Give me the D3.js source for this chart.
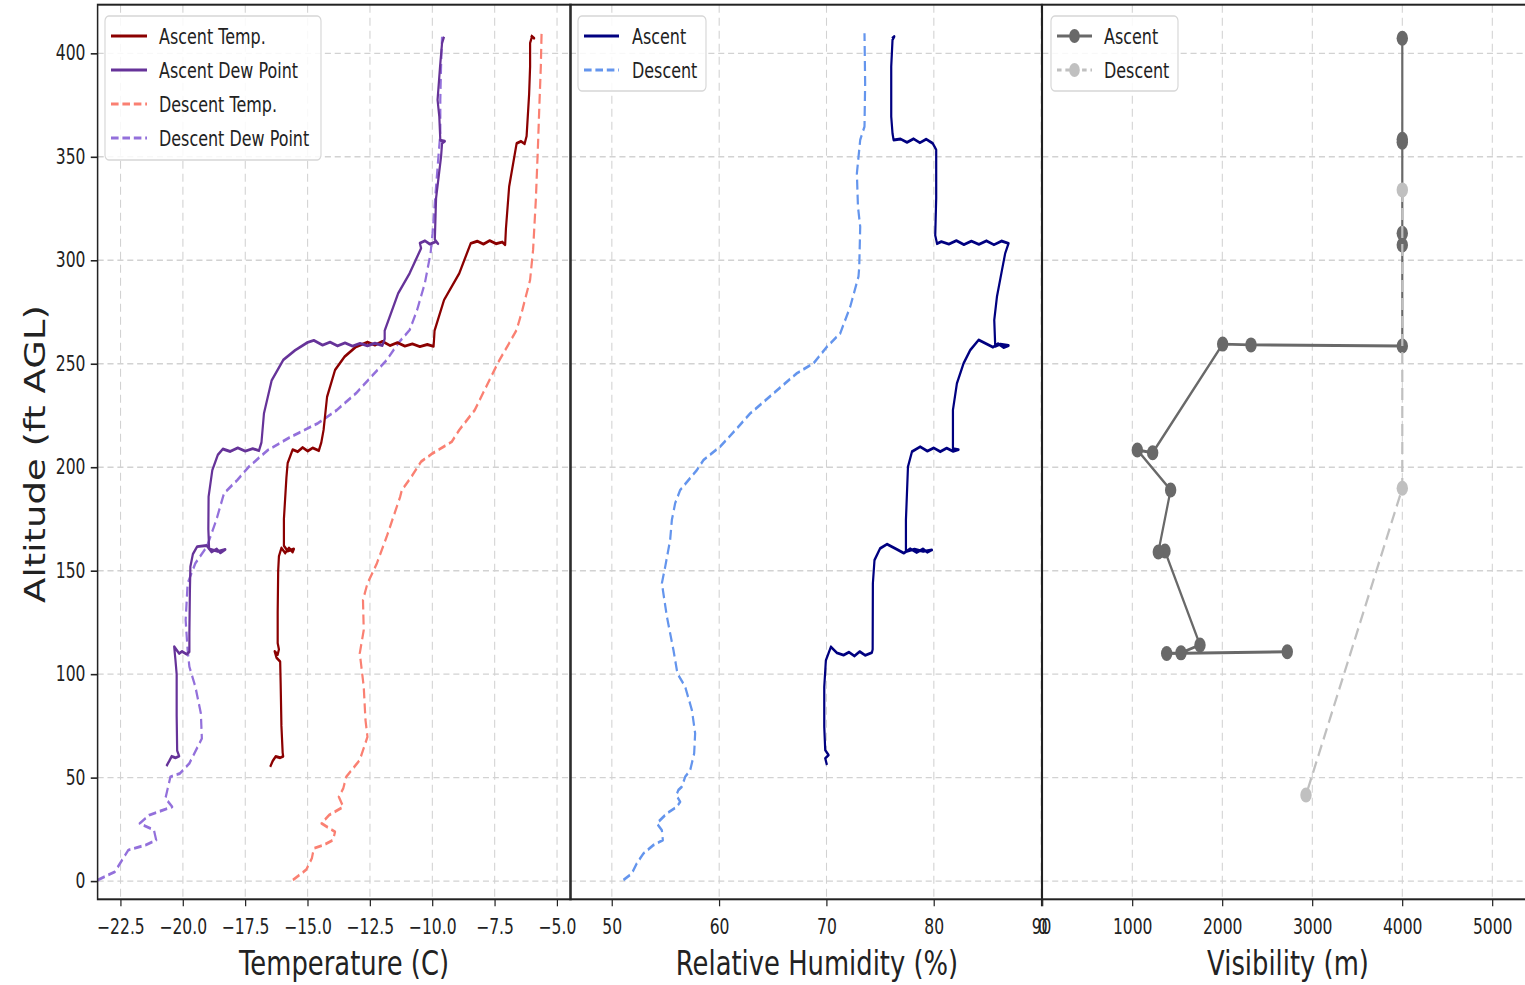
<!DOCTYPE html>
<html lang="en">
<head>
<meta charset="UTF-8">
<title>Ascent / descent profiles</title>
<style>
  body { margin: 0; background: #fff; }
  svg text { font-family: "DejaVu Sans", sans-serif; fill: #222; }
</style>
</head>
<body>
<script src="https://d3js.org/d3.v7.min.js"></script>
<script>
// every series is [value, altitude (ft AGL)]
const ascentTemp = [[-16.5,55.2],[-16.4,58],[-16.28,60.2],[-16.1,59.6],[-15.98,60.3],[-16.0,62],[-16.05,75],[-16.08,95],[-16.1,106],[-16.25,108],[-16.32,111],[-16.2,109.5],[-16.15,112],[-16.2,115],[-16.2,130],[-16.18,150],[-16.15,157],[-16.05,161],[-15.9,158.5],[-15.75,161],[-15.6,159],[-15.55,160.5],[-15.8,159.5],[-15.95,162],[-15.95,175],[-15.85,195],[-15.8,202],[-15.6,208.5],[-15.4,207.5],[-15.2,209.5],[-15.0,207.8],[-14.8,209.3],[-14.55,208],[-14.45,212],[-14.36,218],[-14.22,234],[-13.9,247],[-13.52,253.4],[-13.06,258.2],[-12.6,260.5],[-12.3,259],[-12.0,260.8],[-11.7,258.8],[-11.4,260.2],[-11.1,258.5],[-10.8,259.6],[-10.5,258.3],[-10.2,259.3],[-9.95,258.4],[-9.93,262],[-9.91,266],[-9.53,280.8],[-8.92,293.7],[-8.46,308.2],[-8.2,309.2],[-7.95,307.8],[-7.7,309.5],[-7.45,308],[-7.2,308.8],[-7.08,307.5],[-7.05,315],[-6.92,335.6],[-6.62,356.5],[-6.45,357.5],[-6.3,356.3],[-6.22,360],[-6.12,380],[-6.08,393.6],[-6.08,405],[-6.0,408.2],[-5.92,407.3],[-6.05,408.6]];
const ascentDew = [[-20.66,55.6],[-20.55,58],[-20.45,60.3],[-20.3,59.6],[-20.15,60.4],[-20.23,63],[-20.25,80],[-20.25,100],[-20.3,107],[-20.35,113.3],[-20.15,110],[-20.04,111],[-19.85,109.6],[-19.74,110.8],[-19.74,120],[-19.72,140],[-19.7,152],[-19.6,158],[-19.43,161.6],[-19.05,162.2],[-18.85,159],[-18.65,160.5],[-18.5,158.6],[-18.3,160.3],[-18.6,159.3],[-18.95,160.5],[-18.98,170],[-18.97,185.7],[-18.82,198.6],[-18.6,206],[-18.4,208.8],[-18.1,207.6],[-17.8,209.3],[-17.5,207.8],[-17.2,209],[-16.95,208],[-16.85,212],[-16.75,226],[-16.44,242],[-15.98,251.8],[-15.5,256.5],[-15.0,260.3],[-14.75,261.3],[-14.4,259],[-14.1,260.4],[-13.8,258.6],[-13.5,260.1],[-13.2,258.5],[-12.9,259.8],[-12.6,258.7],[-12.3,259.9],[-12.0,258.8],[-11.91,262],[-11.91,266],[-11.37,284],[-10.91,293.7],[-10.45,305.8],[-10.5,308.3],[-10.3,309.4],[-10.1,307.8],[-9.85,309],[-9.77,308],[-9.9,310],[-9.85,330],[-9.65,350],[-9.61,356.5],[-9.5,357.5],[-9.68,358],[-9.72,369.4],[-9.79,377.5],[-9.69,393.6],[-9.61,404.9],[-9.53,408]];
const descentTemp = [[-15.59,0.5],[-15.05,5.6],[-14.83,11],[-14.75,15.8],[-14.36,17.4],[-13.98,19.8],[-13.9,23.8],[-14.44,27.9],[-14.14,31.9],[-13.57,35.9],[-13.75,40.7],[-13.57,44.8],[-13.45,50.4],[-12.91,58.5],[-12.6,69.7],[-12.68,77.8],[-12.75,93.9],[-12.86,105.2],[-12.91,110],[-12.75,121.3],[-12.78,135.8],[-12.6,143.9],[-12.22,153.6],[-11.83,166.4],[-11.29,185.7],[-11.22,189],[-10.84,195.4],[-10.45,202.7],[-9.99,206.7],[-9.22,212.3],[-8.92,218],[-8.3,227.6],[-7.84,238.9],[-7.38,250.2],[-6.92,259.9],[-6.62,266.3],[-6.39,276],[-6.08,290.5],[-5.96,305],[-5.85,329.2],[-5.77,353.4],[-5.7,377.5],[-5.65,393.6],[-5.62,409.7]];
const descentDew = [[-23.42,0.5],[-22.73,4.5],[-22.19,15],[-21.5,17.4],[-21.07,19.8],[-21.16,24.6],[-21.73,27.9],[-21.35,31.9],[-20.43,35.9],[-20.7,40],[-20.5,50.4],[-20.12,52],[-19.74,56.9],[-19.24,68.9],[-19.28,81],[-19.5,93.9],[-19.74,103.6],[-19.81,111.6],[-19.89,126.1],[-19.81,143.9],[-19.5,153.6],[-19.04,161.6],[-18.66,174.5],[-18.35,187.4],[-17.82,193.8],[-17.36,200.2],[-16.59,208.3],[-15.67,214.7],[-14.59,221.2],[-13.83,227.6],[-13.06,235.7],[-12.45,243.7],[-11.83,251.8],[-11.37,259.9],[-10.91,266.3],[-10.61,276],[-10.3,288.9],[-10.07,303.4],[-9.99,313.1],[-9.84,337.2],[-9.68,361.4],[-9.68,377.5],[-9.65,393.6],[-9.61,408]];
const ascentRH = [[70.04,56.1],[69.88,59.3],[70.19,60.9],[69.88,63.3],[69.79,74.6],[69.79,93.9],[69.94,106.7],[70.41,113.2],[70.97,110.3],[71.59,109.2],[72.1,110.6],[72.6,108.8],[73.1,110.9],[73.6,109.1],[74.23,110.4],[74.3,112],[74.32,143.9],[74.47,155.1],[75.0,160.8],[75.63,162.8],[76.56,160.3],[77.2,158.5],[77.8,160.6],[78.4,158.8],[79.0,160.5],[79.4,158.9],[79.82,160],[79.0,159.3],[78.2,160.4],[77.4,159.2],[77.4,174.5],[77.59,200.2],[77.96,207.5],[78.73,209.9],[79.4,207.8],[80.0,209.3],[80.6,207.5],[81.2,209.2],[81.8,207.7],[82.3,208.5],[81.78,209],[81.78,227.6],[82.15,240.5],[82.77,250.2],[83.39,256.6],[84.17,261.5],[84.95,259.5],[85.5,258],[86.0,259.7],[86.5,257.8],[86.96,258.8],[86.2,259.5],[85.72,258.4],[85.63,271.1],[85.88,282.4],[86.35,295.3],[86.65,303.4],[86.96,308.2],[86.3,309.3],[85.6,307.5],[84.9,309.4],[84.2,307.7],[83.5,309.2],[82.8,307.6],[82.1,309.5],[81.4,307.8],[80.7,309],[80.3,308],[80.13,312],[80.22,330],[80.22,353.4],[79.9,356.5],[79.3,358.5],[78.7,356.8],[78.1,358.7],[77.5,357],[76.9,358.6],[76.25,358.1],[76.15,361.3],[76.03,369.4],[76.03,393.6],[76.15,406.5],[76.31,408.1],[76.1,407.2]];
const descentRH = [[51.08,0.5],[51.86,3.7],[52.33,8.6],[52.95,13.4],[53.88,17.4],[54.75,19.8],[54.66,24.6],[54.19,27.9],[55.13,32.7],[56.06,35.9],[56.37,38.3],[56.0,41.5],[56.2,44],[56.52,45.6],[56.83,50.4],[57.3,53.6],[57.67,61.7],[57.76,71.4],[57.46,82.6],[56.83,93.9],[56.11,100.3],[55.74,111.6],[55.13,127.7],[54.66,143.9],[54.97,151.9],[55.43,164.8],[55.59,174.5],[55.9,182.6],[56.37,189],[57.92,198.6],[58.54,203.5],[60.09,209.9],[61.8,219.6],[62.89,226],[65.06,235.7],[67.24,245.4],[68.79,250.2],[70.04,258.2],[71.28,264.7],[72.21,277.6],[72.98,292.1],[73.05,296.9],[73.14,316.2],[72.93,325.9],[72.83,342],[73.14,358.2],[73.54,364.6],[73.6,385.6],[73.54,409.7]];
const ascentVis = [[2722,110.8],[1382,110],[1541,110.3],[1752,114.1],[1363,159.5],[1289,159],[1426,189],[1056,208.3],[1226,207],[2004,259.5],[2319,259.1],[4000,258.6],[4000,307.4],[4000,313],[4000,357],[4000,358.5],[4000,407.3]];
const descentVis = [[4000,334],[4000,189.8],[2930,41.6]];

const altTicks = [0, 50, 100, 150, 200, 250, 300, 350, 400];
const tempTicks = [-22.5, -20, -17.5, -15, -12.5, -10, -7.5, -5];
const tempTickLabels = ['−22.5', '−20.0', '−17.5', '−15.0', '−12.5', '−10.0', '−7.5', '−5.0'];
const rhTicks = [50, 60, 70, 80, 90];
const rhTickLabels = ['50', '60', '70', '80', '90'];
const visTicks = [0, 1000, 2000, 3000, 4000, 5000];
const visTickLabels = ['0', '1000', '2000', '3000', '4000', '5000'];

const width = 1525, height = 985;
// the reference picture is squeezed horizontally, so draw wide and squeeze
const sx = 0.76;
const u = v => v / sx;

const svg = d3.select('body').append('svg').attr('width', width).attr('height', height);
const root = svg.append('g').attr('transform', `scale(${sx},1)`);

const y = d3.scaleLinear().domain([-8.8, 423.5]).range([899.3, 4.7]);
const xT = d3.scaleLinear().domain([-23.42, -4.44]).range([u(97.6), u(571)]);
const xRH = d3.scaleLinear().domain([46.1, 90.05]).range([u(570), u(1041.7)]);
const xV = d3.scaleLinear().domain([0, 5400]).range([u(1042.3), u(1528.3)]);

function panel(x, ticks, labels, title, titleX) {
  const g = root.append('g');
  const [x0, x1] = x.range();
  const [yb, yt] = y.range();
  // grid
  g.append('g').selectAll('line').data(ticks).join('line')
    .attr('x1', d => x(d)).attr('x2', d => x(d))
    .attr('y1', yt).attr('y2', yb)
    .attr('stroke', '#d2d2d2').attr('stroke-width', 1.4).attr('stroke-dasharray', '8,5');
  g.append('g').selectAll('line').data(altTicks).join('line')
    .attr('x1', x0).attr('x2', x1)
    .attr('y1', d => y(d)).attr('y2', d => y(d))
    .attr('stroke', '#d2d2d2').attr('stroke-width', 1.4).attr('stroke-dasharray', '8,5');
  // x axis
  const ax = g.append('g').attr('transform', `translate(0,${yb})`)
    .call(d3.axisBottom(x).tickValues(ticks).tickFormat((d, i) => labels[i]).tickSize(7).tickPadding(13));
  ax.select('.domain').remove();
  ax.selectAll('line').attr('stroke', '#222').attr('stroke-width', 1.6);
  ax.selectAll('text').attr('font-size', 20.5).attr('font-family', 'DejaVu Sans').attr('fill', '#222');
  g.append('text')
    .attr('x', u(titleX)).attr('y', 975)
    .attr('text-anchor', 'middle').attr('font-size', 34)
    .text(title);
  return g;
}

function frame(x) {
  const [x0, x1] = x.range();
  const [yb, yt] = y.range();
  root.append('rect')
    .attr('x', x0).attr('y', yt).attr('width', x1 - x0).attr('height', yb - yt)
    .attr('fill', 'none').attr('stroke', '#222').attr('stroke-width', 2);
}

function series(x, data, color, dash, w) {
  root.append('path').datum(data)
    .attr('d', d3.line().x(d => x(d[0])).y(d => y(d[1])))
    .attr('fill', 'none').attr('stroke', color)
    .attr('stroke-width', w || 2.9)
    .attr('stroke-linejoin', 'round')
    .attr('stroke-dasharray', dash || null);
}

//温度
panel(xT, tempTicks, tempTickLabels, 'Temperature (C)', 344);
series(xT, descentTemp, 'salmon', '10,5');
series(xT, descentDew, 'mediumpurple', '10,5');
series(xT, ascentTemp, 'darkred');
series(xT, ascentDew, 'rebeccapurple');

//湿度
panel(xRH, rhTicks, rhTickLabels, 'Relative Humidity (%)', 817);
series(xRH, descentRH, 'cornflowerblue', '10,5');
series(xRH, ascentRH, 'navy');

//能见度
panel(xV, visTicks, visTickLabels, 'Visibility (m)', 1288);
series(xV, ascentVis, 'dimgray');
root.append('g').selectAll('circle').data(ascentVis).join('circle')
  .attr('cx', d => xV(d[0])).attr('cy', d => y(d[1])).attr('r', 7.5).attr('fill', 'dimgray');
series(xV, descentVis, 'silver', '12,6');
root.append('g').selectAll('circle').data(descentVis).join('circle')
  .attr('cx', d => xV(d[0])).attr('cy', d => y(d[1])).attr('r', 7.5).attr('fill', 'silver');

frame(xT); frame(xRH); frame(xV);

// y axis on the first panel
const ay = root.append('g').attr('transform', `translate(${xT.range()[0]},0)`)
  .call(d3.axisLeft(y).tickValues(altTicks).tickSize(9).tickPadding(7));
ay.select('.domain').remove();
ay.selectAll('line').attr('stroke', '#222').attr('stroke-width', 1.6);
ay.selectAll('text').attr('font-size', 20.5).attr('font-family', 'DejaVu Sans').attr('fill', '#222');
root.append('text')
  .attr('transform', `translate(${u(45)},454) rotate(-90)`)
  .attr('text-anchor', 'middle').attr('font-size', 37)
  .text('Altitude (ft AGL)');

//图例
function legend(bx, by, bw, bh, lineX0, lineX1, textX, items) {
  const g = root.append('g');
  g.append('rect')
    .attr('x', u(bx)).attr('y', by).attr('width', u(bw)).attr('height', bh)
    .attr('rx', 5).attr('ry', 5)
    .attr('fill', '#fff').attr('fill-opacity', 0.85)
    .attr('stroke', '#d6d6d6').attr('stroke-width', 1.5);
  items.forEach((it, i) => {
    const cy = by + 20 + i * 34;
    g.append('line')
      .attr('x1', u(lineX0)).attr('x2', u(lineX1)).attr('y1', cy).attr('y2', cy)
      .attr('stroke', it.color).attr('stroke-width', 2.9)
      .attr('stroke-dasharray', it.dash || null);
    if (it.marker) {
      g.append('circle').attr('cx', u((lineX0 + lineX1) / 2)).attr('cy', cy).attr('r', 7).attr('fill', it.color);
    }
    g.append('text').attr('x', u(textX)).attr('y', cy + 8).attr('font-size', 21).text(it.label);
  });
}

legend(105, 16, 216, 144, 111, 147, 159, [
  { label: 'Ascent Temp.', color: 'darkred' },
  { label: 'Ascent Dew Point', color: 'rebeccapurple' },
  { label: 'Descent Temp.', color: 'salmon', dash: '10,5' },
  { label: 'Descent Dew Point', color: 'mediumpurple', dash: '10,5' }
]);
legend(578, 16, 128, 75, 584, 619, 632, [
  { label: 'Ascent', color: 'navy' },
  { label: 'Descent', color: 'cornflowerblue', dash: '10,5' }
]);
legend(1051, 16, 127, 75, 1057, 1092, 1104, [
  { label: 'Ascent', color: 'dimgray', marker: true },
  { label: 'Descent', color: 'silver', dash: '6,5', marker: true }
]);
</script>
</body>
</html>
